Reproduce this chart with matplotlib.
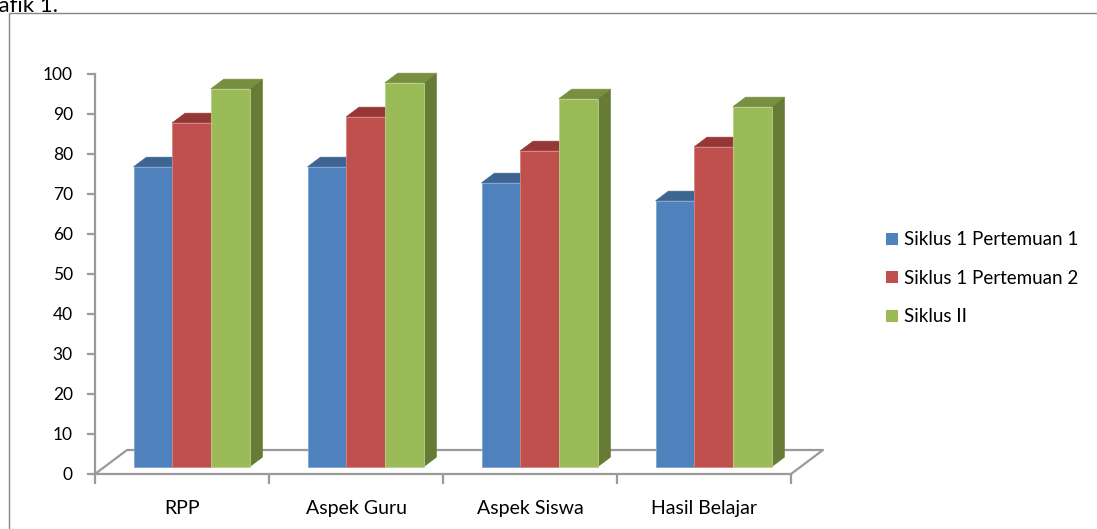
import matplotlib
matplotlib.use("Agg")
import matplotlib.pyplot as plt
from matplotlib.patches import Polygon, Rectangle
from matplotlib.lines import Line2D

plt.rcParams['font.family'] = ['Lato', 'DejaVu Sans']

categories = ["RPP", "Aspek Guru", "Aspek Siswa", "Hasil Belajar"]
series_names = ["Siklus 1 Pertemuan 1", "Siklus 1 Pertemuan 2", "Siklus II"]
siklus1_p1 = [75, 75, 71, 66.5]
siklus1_p2 = [86, 87.5, 79, 80]
siklus2 = [94.5, 96, 92, 90]
yticks = [0, 10, 20, 30, 40, 50, 60, 70, 80, 90, 100]

front_colors = ["#4F81BD", "#C0504D", "#9BBB59"]
top_colors = ["#3C6591", "#953735", "#778F3F"]
side_colors = ["#355780", "#7F2E2C", "#667C36"]
edge_colors = ["#7FA3D3", "#D88380", "#B9D08A"]

W, H = 1097, 529
fig = plt.figure(figsize=(W / 100, H / 100), dpi=100)

# outer chart border
fig.add_artist(Rectangle((9 / W, -0.05), 1.2, 1 - 13 / H + 0.05, transform=fig.transFigure,
                         fill=False, edgecolor="#868686", linewidth=1.0))
fig.text(58 / W, 1 - 12 / H, "Grafik 1.", ha="right", va="baseline", fontsize=16, color="black")

# axes: left at 95px, right at 827px, bottom (value 0) at 474px, top (100) at 74px
ax = fig.add_axes([95 / W, (H - 474) / H, (827 - 95) / W, 400 / H])
cat_px = 174.0
xmax = -0.5 + (827 - 95) / cat_px
ax.set_xlim(-0.5, xmax)
ax.set_ylim(0, 100)

depth_x = 32 / cat_px  # floor depth in x units
depth_y = 6.0          # floor depth in value units
grey = "#9A9A9A"

for s in ["top", "right"]:
    ax.spines[s].set_visible(False)
ax.spines["left"].set_bounds(0, 100)
ax.spines["bottom"].set_bounds(-0.5, len(categories) - 0.5)
for s in ["left", "bottom"]:
    ax.spines[s].set_color(grey)
    ax.spines[s].set_linewidth(1.6)

ax.set_yticks(yticks)
ax.set_yticklabels([str(t) for t in yticks], fontsize=12.5)
ax.tick_params(axis="y", direction="out", length=6, width=1.6, color=grey, pad=10)

ax.set_xticks([i - 0.5 for i in range(len(categories) + 1)])
ax.set_xticklabels([])
ax.set_xticks(list(range(len(categories))), minor=True)
ax.set_xticklabels(categories, minor=True, fontsize=14)
ax.tick_params(axis="x", which="major", direction="out", length=7, width=1.6, color=grey)
ax.tick_params(axis="x", which="minor", length=0, pad=19)

# floor outline
n = len(categories)
floor = [(-0.5, 0), (-0.5 + depth_x, depth_y), (n - 0.5 + depth_x, depth_y), (n - 0.5, 0)]
ax.add_line(Line2D([p[0] for p in floor], [p[1] for p in floor], color=grey, lw=1.6,
                   clip_on=False, zorder=1))

# 3D bars
values = [siklus1_p1, siklus1_p2, siklus2]
bw = 0.222
f_front = 0.3
f_depth = 0.4
bdx, bdy = f_depth * depth_x, f_depth * depth_y
for i in range(n):
    for j, vals in enumerate(values):
        v = vals[i]
        xl = i + (j - 1) * bw - bw / 2 + f_front * depth_x
        xr = xl + bw
        y0 = f_front * depth_y
        top = y0 + v
        z = 2 + j
        side = Polygon([(xr, y0), (xr + bdx, y0 + bdy), (xr + bdx, top + bdy), (xr, top)],
                       closed=True, facecolor=side_colors[j], edgecolor=side_colors[j],
                       lw=0.5, zorder=z, clip_on=False)
        topf = Polygon([(xl, top), (xr, top), (xr + bdx, top + bdy), (xl + bdx, top + bdy)],
                       closed=True, facecolor=top_colors[j], edgecolor=top_colors[j],
                       lw=0.5, zorder=z, clip_on=False)
        front = Rectangle((xl, y0), bw, v, facecolor=front_colors[j],
                          edgecolor=edge_colors[j], lw=0.6, zorder=z + 0.5, clip_on=False)
        ax.add_patch(side)
        ax.add_patch(topf)
        ax.add_patch(front)

# legend
handles = [Rectangle((0, 0), 1, 1, facecolor=c, edgecolor="none") for c in front_colors]
fig.legend(handles, series_names, loc="upper left", bbox_to_anchor=(877 / W, 1 - 222 / H),
           frameon=False, fontsize=13.5, handlelength=0.62, handleheight=0.62,
           handletextpad=0.3, labelspacing=1.15, borderpad=0)

fig.savefig("out.png", dpi=100)
